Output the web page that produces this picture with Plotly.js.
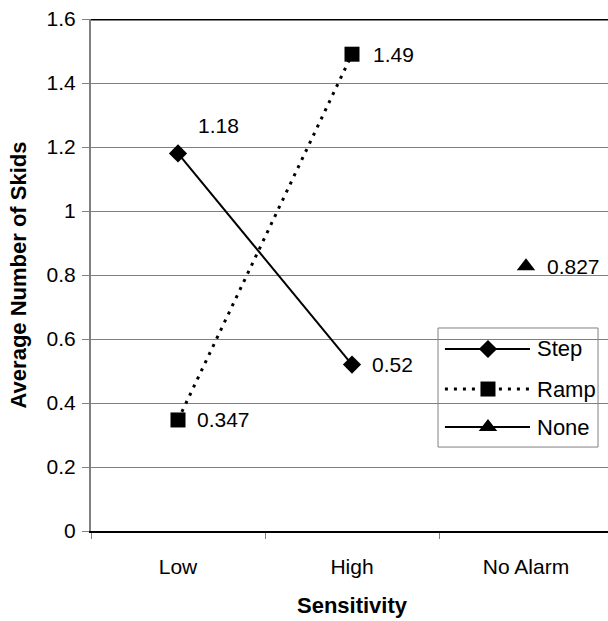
<!DOCTYPE html>
<html>
<head>
<meta charset="utf-8">
<script src="https://cdn.plot.ly/plotly-3.0.1.min.js"></script>
<style>
html,body{margin:0;padding:0;overflow:hidden;background:#fff;}
#chart{width:620px;height:621px;}
</style>
</head>
<body>
<div id="chart"></div>
<script>
// Data
const categories = ["Low", "High", "No Alarm"];
const stepX = ["Low", "High"];
const stepY = [1.18, 0.52];
const rampX = ["Low", "High"];
const rampY = [0.347, 1.49];
const noneX = ["No Alarm"];
const noneY = [0.827];
const seriesNames = ["Step", "Ramp", "None"];
const yTicks = [0, 0.2, 0.4, 0.6, 0.8, 1, 1.2, 1.4, 1.6];

const FONT = "Liberation Sans, Arial, sans-serif";

const traces = [
  {x: stepX, y: stepY, type: "scatter", mode: "lines+markers", name: seriesNames[0],
   line: {color: "#000", width: 2}, marker: {symbol: "diamond", size: 14, color: "#000"}, showlegend: false},
  {x: rampX, y: rampY, type: "scatter", mode: "lines+markers", name: seriesNames[1],
   line: {color: "#000", width: 3, dash: "3px,6px"}, marker: {symbol: "square", size: 15, color: "#000"}, showlegend: false},
  {x: noneX, y: noneY, type: "scatter", mode: "lines+markers", name: seriesNames[2],
   line: {color: "#000", width: 2}, marker: {symbol: "triangle-up", size: 16, color: "#000"}, showlegend: false}
];

// Manual legend (coordinates on an overlay axis spanning the plot area)
const legRows = [0.3555, 0.2773, 0.2031];
const legLineX = [0.678, 0.841];
const legMarkX = 0.7605;
const legStyles = [
  {line: {color: "#000", width: 2}, marker: {symbol: "diamond", size: 14, color: "#000"}},
  {line: {color: "#000", width: 3, dash: "3px,6px"}, marker: {symbol: "square", size: 15, color: "#000"}},
  {line: {color: "#000", width: 2}, marker: {symbol: "triangle-up", size: 16, color: "#000"}}
];
seriesNames.forEach((n, i) => {
  traces.push({x: legLineX, y: [legRows[i], legRows[i]], xaxis: "x2", yaxis: "y2", type: "scatter", mode: "lines",
    line: legStyles[i].line, showlegend: false, hoverinfo: "skip"});
  traces.push({x: [legMarkX], y: [legRows[i]], xaxis: "x2", yaxis: "y2", type: "scatter", mode: "markers",
    marker: legStyles[i].marker, showlegend: false, hoverinfo: "skip"});
});

const annotations = [];
function addLabels(xs, ys, offsets) {
  xs.forEach((x, i) => {
    const o = offsets[i];
    annotations.push({x: x, y: ys[i], xref: "x", yref: "y", text: String(ys[i]), showarrow: false,
      xanchor: o.anchor, yanchor: "middle", xshift: o.dx, yshift: o.dy,
      font: {family: FONT, size: 21, color: "#000"}});
  });
}
addLabels(stepX, stepY, [{anchor: "center", dx: 40, dy: 28}, {anchor: "left", dx: 18, dy: 0}]);
addLabels(rampX, rampY, [{anchor: "left", dx: 17, dy: 0}, {anchor: "left", dx: 19, dy: 0}]);
addLabels(noneX, noneY, [{anchor: "left", dx: 19, dy: 0}]);
seriesNames.forEach((n, i) => {
  annotations.push({x: 0.8506, y: legRows[i], xref: "paper", yref: "paper", text: n, showarrow: false,
    xanchor: "left", yanchor: "middle", font: {family: FONT, size: 22, color: "#000"}});
});

const layout = {
  width: 620, height: 621,
  margin: {l: 91, r: 7, t: 19, b: 90},
  paper_bgcolor: "#fff", plot_bgcolor: "#fff",
  font: {family: FONT, size: 21, color: "#000"},
  showlegend: false,
  xaxis: {
    type: "category", categoryorder: "array", categoryarray: categories,
    range: [-0.5, 2.5], tickson: "boundaries", ticks: "outside", ticklen: 6, tickwidth: 1, tickcolor: "#808080",
    showline: true, linecolor: "#000", linewidth: 2, showgrid: false, zeroline: false,
    ticklabelstandoff: 16,
    tickfont: {family: FONT, size: 21, color: "#000"},
    title: {text: "<b>Sensitivity</b>", font: {family: FONT, size: 22, color: "#000"}, standoff: 20},
    automargin: false, fixedrange: true
  },
  yaxis: {
    range: [0, 1.6], tickvals: yTicks, ticktext: yTicks.map(String),
    ticks: "outside", ticklen: 7, tickwidth: 1, tickcolor: "#808080",
    showline: true, linecolor: "#808080", linewidth: 2,
    showgrid: true, gridcolor: "#808080", gridwidth: 1, zeroline: false,
    ticklabelstandoff: 2,
    tickfont: {family: FONT, size: 21, color: "#000"},
    title: {text: "<b>Average Number of Skids</b>", font: {family: FONT, size: 22, color: "#000"}, standoff: 14},
    automargin: false, fixedrange: true
  },
  xaxis2: {overlaying: "x", range: [0, 1], visible: false, fixedrange: true},
  yaxis2: {overlaying: "y", range: [0, 1], visible: false, fixedrange: true},
  shapes: [
    {type: "rect", xref: "paper", yref: "paper", x0: 0.6648, x1: 0.9713, y0: 0.164, y1: 0.3965,
     line: {color: "#808080", width: 1}, fillcolor: "#fff", layer: "between"},
    {type: "line", xref: "paper", yref: "y", x0: 0, x1: 1, y0: 1.6, y1: 1.6,
     line: {color: "#000", width: 3}, layer: "above"}
  ],
  annotations: annotations
};

Plotly.newPlot("chart", traces, layout, {staticPlot: true, displayModeBar: false});
</script>
</body>
</html>
